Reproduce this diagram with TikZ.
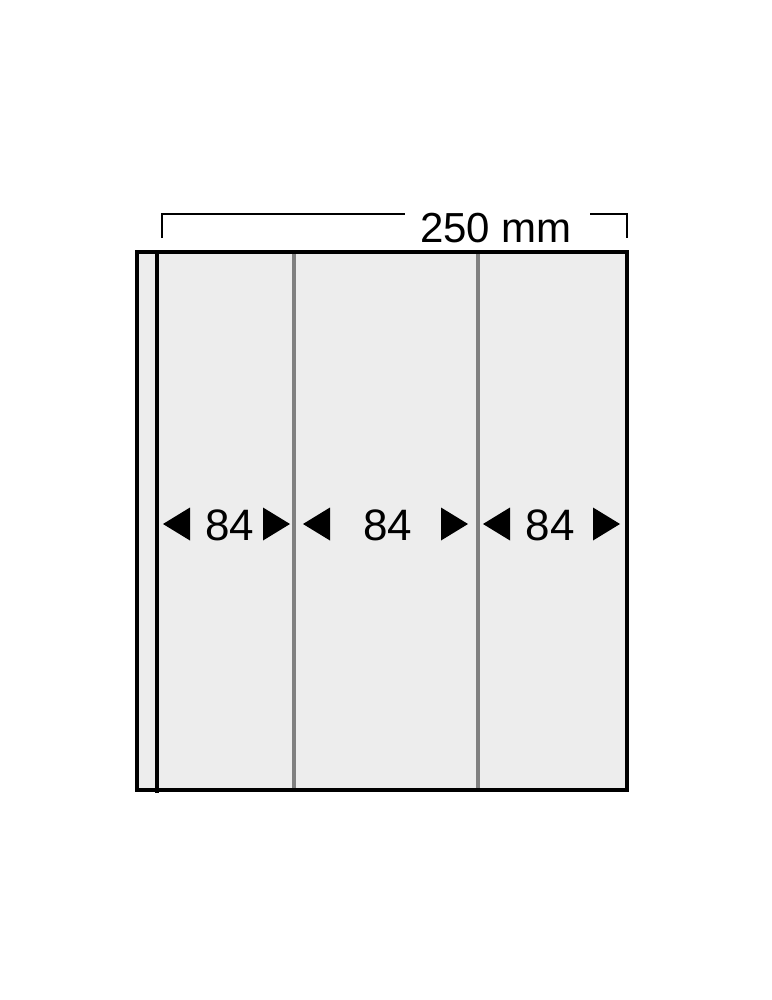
\documentclass[tikz,border=0pt]{standalone}
\usepackage{fontspec}
\setmainfont{Liberation Sans}
\tikzset{
    pijllinks/.pic={\fill (0,0) -- (27,-16.5) -- (27,16.5) -- cycle;},
    pijlrechts/.pic={\fill (0,0) -- (-27,-16.5) -- (-27,16.5) -- cycle;}
}
\begin{document}
\begin{tikzpicture}[
    x=1pt, y=-1pt,
    frame/.style={line width=4pt, draw=black},
    divider/.style={line width=4pt, draw=black!50},
    sheet/.style={fill=black!7},
    bracket/.style={line width=2pt, draw=black},
    maat/.style={font=\fontsize{44}{44}\selectfont, anchor=base, inner sep=0pt}
    ]
\useasboundingbox (0,0) rectangle (771,1000);
% sheet with pockets
\fill[sheet] (137,252) rectangle (627,790);
\draw[divider] (294,252) -- (294,790);
\draw[divider] (478,252) -- (478,790);
\draw[frame] (157,252) -- (157,793);
\draw[frame] (137,252) rectangle (627,790);
% total width
\node[maat, font=\fontsize{42}{42}\selectfont] (breedte) at (496,242) {250 mm};
\coordinate (links) at (162,238);
\coordinate (rechts) at (627,238);
\draw[bracket] (links) |- (405,214);
\draw[bracket] (590,214) -| (rechts);
% pocket widths
\foreach \l/\m/\r [count=\i] in {163/230/290, 303/388/468, 483/550/620}{
    \pic at (\l,524) {pijllinks};
    \node[maat] (vak\i) at (\m,540) {84};
    \pic at (\r,524) {pijlrechts};
}
\end{tikzpicture}
\end{document}
